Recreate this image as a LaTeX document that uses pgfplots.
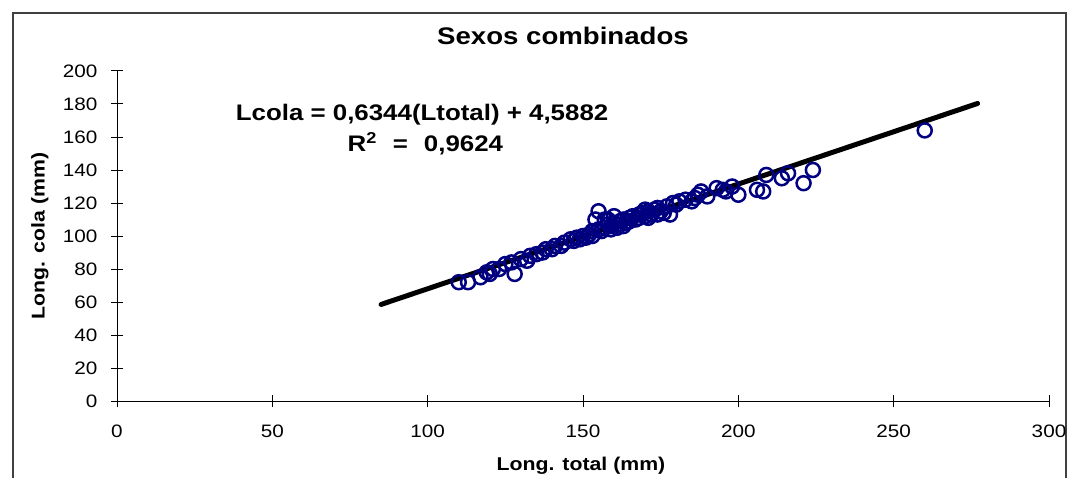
\documentclass[border=0pt]{standalone}
\usepackage{fontspec}
\setmainfont{Liberation Sans}[FakeStretch=1.15]
\usepackage{pgfplots}
\pgfplotsset{compat=1.18}
\definecolor{navy}{RGB}{0,0,128}
\definecolor{frame}{RGB}{64,64,64}
\begin{document}
\begin{tikzpicture}[x=1pt,y=1pt]
\path[use as bounding box] (0,0) rectangle (1070,-478);
\draw[frame, line width=1.5pt] (13,-478) -- (13,-13) -- (1066,-13) -- (1066,-478);
\begin{axis}[
  at={(117pt,-401pt)}, anchor=south west,
  scale only axis, width=932pt, height=330pt,
  xmin=0, xmax=300, ymin=0, ymax=200,
  xtick={0,50,...,300}, ytick={0,20,...,200},
  axis x line=bottom, axis y line=left,
  axis line style={-, black, line width=1pt},
  major tick length=12pt, tick align=center,
  tick style={black, line width=1pt},
  /pgf/number format/assume math mode=true,
  ticklabel style={font=\fontsize{18}{20}\selectfont},
  xticklabel style={anchor=center, yshift=-24pt},
  yticklabel style={anchor=east, xshift=-10pt},
  title={\textbf{Sexos combinados}},
  title style={font=\fontsize{24}{26}\selectfont, at={(axis description cs:0.5,1)}, anchor=center, xshift=-20pt, yshift=29pt},
  xlabel={\textbf{Long. total (mm)}},
  ylabel={\textbf{Long. cola (mm)}},
  xlabel style={font=\fontsize{18.5}{20}\selectfont, at={(axis description cs:0.5,0)}, anchor=center, yshift=-65pt, xshift=-2pt},
  ylabel style={font=\fontsize{18.5}{20}\selectfont, at={(axis description cs:0,0.5)}, anchor=center, yshift=77pt},
  clip=false,
]
\addplot[only marks, mark=o, mark size=7pt, draw=navy, line width=2.5pt, mark options={fill=white}] coordinates {
(110,72) (113,72) (117,75) (119,78) (120,77) (121,80) (123,80) (125,83) (127,84) (128,77)
(130,86) (132,85) (133,88) (135,89) (137,90) (138,92) (140,92) (141,94) (143,94) (144,96)
(146,98) (147,97) (148,99) (150,100) (151,99) (152,101) (153,100) (154,110) (155,115) (155,104)
(156,103) (157,105) (158,107) (158,110) (159,106) (160,108) (160,112) (161,105) (162,109) (163,110)
(164,108) (165,111) (166,112) (167,110) (168,113) (169,114) (170,112) (170,116) (171,115) (172,113)
(173,116) (174,117) (175,115) (176,114) (177,118) (178,113) (179,120) (180,119) (181,121) (183,122)
(185,121) (186,123) (187,125) (188,127) (190,124) (193,129) (195,128) (196,127) (198,130) (200,125)
(206,128) (208,127) (209,137) (214,135) (216,138) (221,132) (224,140) (260,164)
(149,98) (153,103) (157,110) (161,107) (165,109) (168,111) (171,111) (174,113) (159,104) (163,106)
};
\addplot[black, line width=5pt, line cap=round] coordinates {(85,58.512) (277,180.317)};
\node[font=\fontsize{22.5}{24}\selectfont\bfseries, anchor=center] at (axis cs:98.2,173.5) {Lcola = 0,6344(Ltotal) + 4,5882};
\node[font=\fontsize{22.5}{24}\selectfont\bfseries, anchor=west] at (axis cs:73.1,156) {R\textsuperscript{2}\hspace{16pt}=\hspace{16pt}0,9624};
\end{axis}
\end{tikzpicture}
\end{document}
